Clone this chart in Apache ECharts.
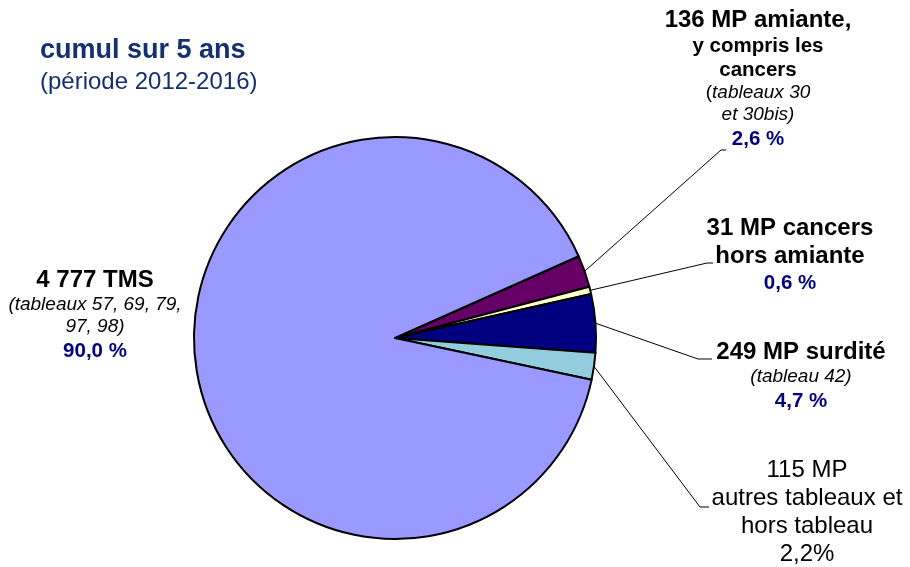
<!DOCTYPE html>
<html>
<head>
<meta charset="utf-8">
<script src="https://cdn.jsdelivr.net/npm/echarts@6/dist/echarts.min.js"></script>
<style>
  html, body { margin: 0; padding: 0; background: #fff; }
  #chart { width: 910px; height: 567px; }
</style>
</head>
<body>
<div id="chart"></div>
<script>
// données : maladies professionnelles, cumul 2012-2016
const names = ['amiante', 'cancers hors amiante', 'surdité', 'autres tableaux et hors tableau', 'TMS']
const values = [136, 31, 249, 115, 4777]
const labelLines = [
  ['136 MP amiante,', 'y compris les', 'cancers', '(tableaux 30', 'et 30bis)'],
  ['31 MP cancers', 'hors amiante'],
  ['249 MP surdité', '(tableau 42)'],
  ['115 MP', 'autres tableaux et', 'hors tableau'],
  ['4 777 TMS', '(tableaux 57, 69, 79,', '97, 98)']
]

const total = values.reduce((a, b) => a + b, 0)
const pctText = v => (v / total * 100).toFixed(1).replace('.', ',')

// styles des étiquettes
const sliceColors = ['#660066', '#FFFFCC', '#000080', '#93CDDD', '#9999FF']
const lineKeys = [
  ['t', 'b', 'b', 'iu', 'i'],
  ['t', 't'],
  ['t', 'i'],
  ['r', 'r', 'r'],
  ['t', 'i', 'i']
]
const pctKeys = ['p', 'p', 'p', 'r', 'p']
const pctSep = [' %', ' %', ' %', '%', ' %']
// placement : [centre x, haut, fin du trait x, fin du trait y, longueur du palier]
const labelPlace = [
  [758, 6, 726, 150, 5],
  [790, 214, 713, 263, 6],
  [801, 338, 712, 359, 14],
  [807, 456, 709, 507, 9],
  [95, 266]
]

const buildLabel = function (idx) {
  let rows = labelLines[idx].map((txt, k) => {
    let key = lineKeys[idx][k]
    if (key === 'iu') {
      return '{ir|(}{i|' + txt.slice(1) + '}'
    }
    return '{' + key + '|' + txt + '}'
  })
  rows.push('{' + pctKeys[idx] + '|' + pctText(values[idx]) + pctSep[idx] + '}')
  return rows.join('\n')
}

const font = 'Liberation Sans, Arial, sans-serif'
const rich = {
  t: { fontFamily: font, fontSize: 24, fontWeight: 'bold', color: '#000', lineHeight: 28 },
  b: { fontFamily: font, fontSize: 20.5, fontWeight: 'bold', color: '#000', lineHeight: 24 },
  i: { fontFamily: font, fontSize: 19, fontStyle: 'italic', color: '#000', lineHeight: 22 },
  ir: { fontFamily: font, fontSize: 19, color: '#000', lineHeight: 22 },
  p: { fontFamily: font, fontSize: 20.5, fontWeight: 'bold', color: '#000080', lineHeight: 26 },
  r: { fontFamily: font, fontSize: 24, color: '#000', lineHeight: 28 }
}

const chart = echarts.init(document.getElementById('chart'), null, { renderer: 'canvas' })

const option = {
  backgroundColor: '#fff',
  animation: false,
  title: {
    left: 40,
    top: 37,
    padding: 0,
    itemGap: 6,
    text: 'cumul sur 5 ans',
    subtext: '(période 2012-2016)',
    textStyle: { fontFamily: font, fontSize: 27, fontWeight: 'bold', color: '#14306E' },
    subtextStyle: { fontFamily: font, fontSize: 24, color: '#14306E' }
  },
  series: [{
    type: 'pie',
    center: [395, 338],
    radius: 201,
    startAngle: 24,
    clockwise: true,
    avoidLabelOverlap: false,
    data: names.map((n, i) => ({
      name: n,
      value: values[i],
      itemStyle: { color: sliceColors[i] },
      labelLine: { show: i < 4 }
    })),
    itemStyle: { borderColor: '#000', borderWidth: 2 },
    label: {
      show: true,
      position: 'outside',
      formatter: p => buildLabel(p.dataIndex),
      rich: rich,
      align: 'center'
    },
    labelLine: {
      show: true,
      lineStyle: { color: '#000', width: 1 }
    },
    labelLayout: function (params) {
      let pl = labelPlace[params.dataIndex]
      let res = { x: pl[0], y: pl[1], align: 'center', verticalAlign: 'top' }
      if (pl.length > 2 && params.labelLinePoints) {
        let start = params.labelLinePoints[0]
        res.labelLinePoints = [start, [pl[2] - pl[4], pl[3]], [pl[2], pl[3]]]
      }
      return res
    },
    emphasis: { disabled: true }
  }]
}

chart.setOption(option)
</script>
</body>
</html>
